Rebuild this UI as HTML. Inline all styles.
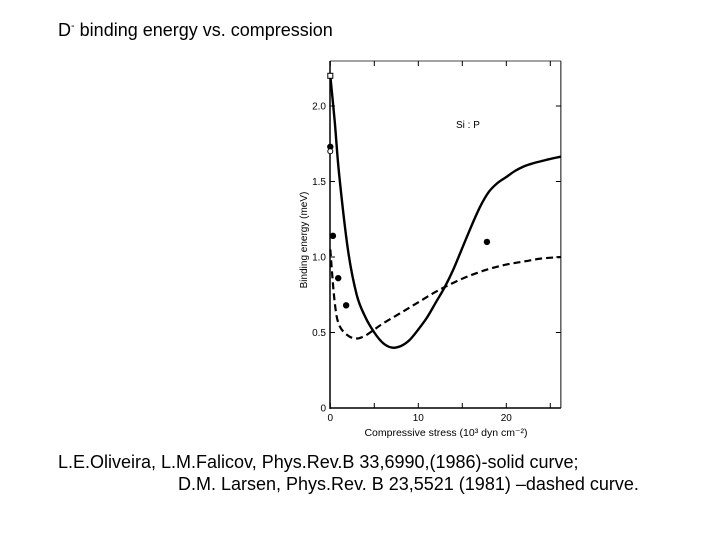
<!DOCTYPE html>
<html><head><meta charset="utf-8"><style>
body{margin:0;background:#fff;width:720px;height:540px;overflow:hidden;font-family:"Liberation Sans",sans-serif;}
.t{position:absolute;color:#000;white-space:nowrap;}
</style></head><body>
<div class="t" style="left:58px;top:20px;font-size:18px;">D<sup style="font-size:11px">-</sup> binding energy vs. compression</div>
<svg style="position:absolute;left:0;top:0" width="720" height="540">
<g id="g"></g>
</svg>
<div class="t" style="left:58px;top:452px;font-size:18px;">L.E.Oliveira, L.M.Falicov, Phys.Rev.B 33,6990,(1986)-solid curve;</div>
<div class="t" style="left:178px;top:474px;font-size:18px;">D.M. Larsen, Phys.Rev. B 23,5521 (1981) –dashed curve.</div>
<script>
const solidX=[0,0.5,1,2,3,4,5,6,7,8,9,10,11,12,13,14,15,16,17,18,19,20,21,22,23,24,25,26.2];
const solidY=[2.2,1.9,1.55,1.05,0.75,0.6,0.5,0.43,0.4,0.41,0.45,0.52,0.6,0.7,0.8,0.92,1.06,1.2,1.33,1.43,1.49,1.53,1.57,1.6,1.62,1.635,1.65,1.665];
const dashX=[0,0.5,1,2,3,4,5,6,8,10,12,14,16,18,20,22,24,26.2];
const dashY=[1.05,0.7,0.55,0.48,0.46,0.48,0.52,0.56,0.63,0.7,0.77,0.83,0.88,0.92,0.95,0.97,0.99,1.0];
const ptsX=[0,0.3,0.9,1.8,17.8];
const ptsY=[1.73,1.14,0.86,0.68,1.1];
const xTicks=[0,10,20];
const xMinor=[0,5,10,15,20,25];
const yTicks=[0,0.5,1.0,1.5,2.0];
const yLabels=["0","0.5","1.0","1.5","2.0"];
const xMax=26.2, yTop=2.3;
const sx=v=>330.3+v*8.8, sy=v=>408-v*151;
const g=document.getElementById('g');
const NS='http://www.w3.org/2000/svg';
function mk(tag,attrs){const e=document.createElementNS(NS,tag);for(const k in attrs)e.setAttribute(k,attrs[k]);g.appendChild(e);return e;}
let e;
const R=sx(xMax), T=61;
e=mk('line',{x1:330,y1:T,x2:330,y2:409,stroke:'#000','stroke-width':1.5});


e=mk('line',{x1:330,y1:408,x2:R,y2:408,stroke:'#000','stroke-width':1.5});


e=mk('line',{x1:330,y1:T,x2:R,y2:T,stroke:'#444','stroke-width':0.9});


e=mk('line',{x1:R,y1:T,x2:R,y2:408,stroke:'#222','stroke-width':1.1});


xMinor.forEach(v=>{
 e=mk('line',{x1:sx(v),y1:408,x2:sx(v),y2:403,stroke:'#000'});
 
 
 e=mk('line',{x1:sx(v),y1:T,x2:sx(v),y2:T+5,stroke:'#000'});
 
 
});
xTicks.forEach(v=>{
 e=mk('text',{x:sx(v),y:421,'font-size':10,'text-anchor':'middle','font-family':'Liberation Sans'});
 e.textContent=String(v);
 
 
});
yTicks.forEach((v,i)=>{
 e=mk('line',{x1:330,y1:sy(v),x2:335,y2:sy(v),stroke:'#000'});
 
 
 e=mk('line',{x1:R,y1:sy(v),x2:R-5,y2:sy(v),stroke:'#000'});
 
 
 e=mk('text',{x:326,y:sy(v)+3.5,'font-size':10,'text-anchor':'end','font-family':'Liberation Sans'});
 e.textContent=yLabels[i];
 
 
});
e=mk('text',{x:307,y:240,'font-size':10,'text-anchor':'middle','font-family':'Liberation Sans',transform:'rotate(-90 307 240)'});
e.textContent='Binding energy (meV)';


e=mk('text',{x:446,y:436,'font-size':10.5,'text-anchor':'middle','font-family':'Liberation Sans'});
e.textContent='Compressive stress (10³ dyn cm⁻²)';


e=mk('text',{x:456,y:128,'font-size':10,'font-family':'Liberation Sans'});
e.textContent='Si : P';


function path(xs,ys){
 const p=xs.map((x,i)=>[sx(x),sy(ys[i])]);
 let d='M'+p[0][0].toFixed(1)+','+p[0][1].toFixed(1);
 for(let i=0;i<p.length-1;i++){
  const p0=p[Math.max(0,i-1)],p1=p[i],p2=p[i+1],p3=p[Math.min(p.length-1,i+2)];
  const c1=[p1[0]+(p2[0]-p0[0])/6,p1[1]+(p2[1]-p0[1])/6];
  const c2=[p2[0]-(p3[0]-p1[0])/6,p2[1]-(p3[1]-p1[1])/6];
  d+=' C'+c1.map(v=>v.toFixed(1)).join(',')+' '+c2.map(v=>v.toFixed(1)).join(',')+' '+p2.map(v=>v.toFixed(1)).join(',');
 }
 return d;
}
e=mk('path',{d:path(solidX,solidY),fill:'none',stroke:'#000','stroke-width':2.4,'stroke-linejoin':'round'});


e=mk('path',{d:path(dashX,dashY),fill:'none',stroke:'#000','stroke-width':2.2,'stroke-dasharray':'7,4'});


ptsX.forEach((x,i)=>{
 e=mk('circle',{cx:sx(x),cy:sy(ptsY[i]),r:3.2,fill:'#000'});
 
 
});
e=mk('circle',{cx:sx(0),cy:sy(1.70),r:2.5,fill:'#fff',stroke:'#000'});


e=mk('rect',{x:sx(0)-2.5,y:sy(2.2)-2.5,width:5,height:5,fill:'#fff',stroke:'#000'});


</script>
</body></html>
